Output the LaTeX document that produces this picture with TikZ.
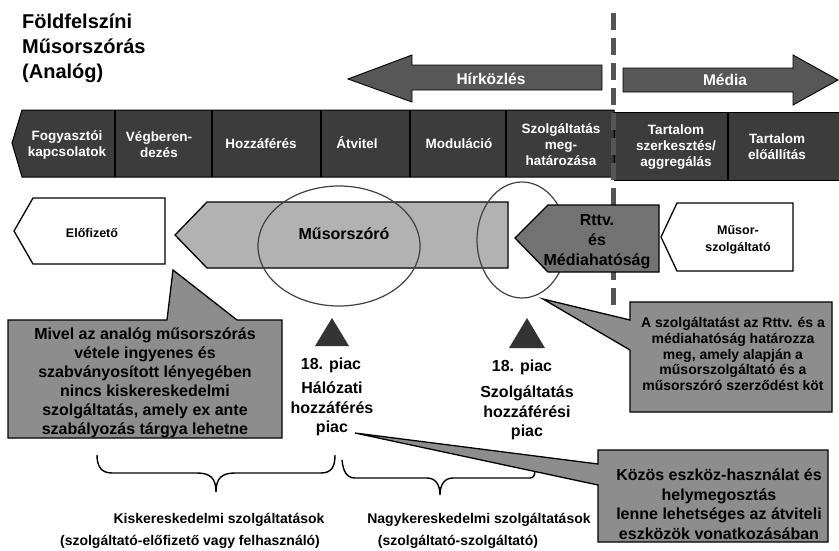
\documentclass[tikz,border=0pt]{standalone}
\usepackage{fontspec}
\setmainfont{Liberation Sans}
\definecolor{barfill}{HTML}{3C3C3C}
\definecolor{arrfill}{HTML}{575757}
\definecolor{lightfill}{HTML}{B2B2B2}
\definecolor{midfill}{HTML}{737373}
\definecolor{callfill}{HTML}{8D8D8D}
\definecolor{trifill}{HTML}{333333}
\definecolor{dashcol}{HTML}{555555}
\begin{document}
\begin{tikzpicture}[x=1pt,y=-1pt,
  txt/.style={inner sep=0pt, align=center},
  titletxt/.style={txt, align=left, font=\bfseries\fontsize{20}{25}\selectfont},
  celltxt/.style={txt, text=white, font=\bfseries\fontsize{13.5}{16}\selectfont},
  onecell/.style={celltxt, text height=10pt, text depth=3pt},
  arrowtxt/.style={txt, text=white, font=\bfseries\fontsize{15.5}{18}\selectfont},
  bigtxt/.style={txt, font=\bfseries\fontsize{16}{19.5}\selectfont},
  smalltxt/.style={txt, font=\bfseries\fontsize{12.5}{17}\selectfont},
  calltxt/.style={txt, font=\bfseries\fontsize{14}{15.6}\selectfont},
  bottxt/.style={txt, font=\bfseries\fontsize{14}{18}\selectfont},
  arrowshape/.style={draw=black, line width=0.9pt, fill=arrfill},
  barshape/.style={draw=black, line width=1pt, fill=barfill},
  divider/.style={draw=black, line width=1.2pt},
  whitebox/.style={draw=black, line width=1.3pt, fill=white},
  callout/.style={draw=black, line width=1.3pt, fill=callfill},
  ring/.style={draw=black!75, line width=1.2pt},
  marker/.style={fill=trifill},
  bracestyle/.style={draw=black, line width=1.4pt},
  dashline/.style={draw=dashcol, line width=5pt, dash pattern=on 17pt off 8pt}
]
\useasboundingbox (0,0) rectangle (839,550);

% title
\node[titletxt, anchor=west] (title) at (22,48) {Földfelszíni\\Műsorszórás\\(Analóg)};

% Hírközlés / Média arrows
\draw[arrowshape] (348,79) -- (412,55) -- (412,65) -- (602,65) -- (602,90) -- (412,90) -- (412,102) -- cycle;
\node[arrowtxt] (hir) at (491,79) {Hírközlés};
\draw[arrowshape] (623,68) -- (793,68) -- (793,55) -- (838,80) -- (793,105) -- (793,92) -- (623,92) -- cycle;
\node[arrowtxt] (media) at (725,80) {Média};

% value chain bar
\draw[barshape] (12,143) -- (22,110) -- (614,110) -- (614,177) -- (22,177) -- cycle;
\foreach \x in {115,212,321,410,506} \draw[divider] (\x,110) -- (\x,177);
\draw[barshape] (614,112) rectangle (840,180);
\draw[divider] (728,112) -- (728,180);
\node[celltxt] (c1) at (67,145) {Fogyasztói\\kapcsolatok};
\node[celltxt] (c2) at (159,145) {Végberen-\\dezés};
\node[onecell] (c3) at (261,145) {Hozzáférés};
\node[onecell] (c4) at (357,145) {Átvitel};
\node[onecell] (c5) at (459,145) {Moduláció};
\node[celltxt] (c6) at (561,145) {Szolgáltatás\\meg-\\határozása};
\node[celltxt] (c7) at (676,147) {Tartalom\\szerkesztés/\\aggregálás};
\node[celltxt] (c8) at (777,147) {Tartalom\\előállítás};

% dashed separator
\draw[dashline] (613,13) -- (613,305);

% second row
\draw[whitebox] (14,231) -- (33,198) -- (165,198) -- (165,264) -- (33,264) -- cycle;
\node[smalltxt] (elo) at (92,233) {Előfizető};
\draw[barshape, fill=lightfill, line width=1.3pt] (175,235) -- (207,202) -- (508,202) -- (508,268) -- (207,268) -- cycle;
\node[bigtxt] (muso) at (344,234) {Műsorszóró};
\draw[ring] (339,246) ellipse [x radius=81, y radius=60];
\draw[ring] (522,240) ellipse [x radius=45, y radius=58];
\draw[barshape, fill=midfill, line width=1.3pt] (515,238) -- (548,205) -- (659,205) -- (659,272) -- (548,272) -- cycle;
\node[bigtxt, font=\bfseries\fontsize{16}{20}\selectfont] (rttv) at (597,242) {Rttv.\\és\\Médiahatóság};
\draw[whitebox] (661,237) -- (677,203) -- (793,203) -- (793,271) -- (677,271) -- cycle;
\node[smalltxt] (msz) at (738,240) {Műsor-\\szolgáltató};

% callout 1
\draw[callout] (8,320) -- (167,320) -- (173,270) -- (237,320) -- (282,320) -- (282,438) -- (8,438) -- cycle;
\node[bigtxt, font=\bfseries\fontsize{16}{19}\selectfont] (co1) at (145,383) {Mivel az analóg műsorszórás\\vétele ingyenes és\\szabványosított lényegében\\nincs kiskereskedelmi\\szolgáltatás, amely ex ante\\szabályozás tárgya lehetne};

% callout 2
\draw[callout] (630,302) -- (832,302) -- (832,412) -- (630,412) -- (630,350) -- (543,299) -- (630,320) -- cycle;
\node[calltxt] (co2) at (733,354) {A szolgáltatást az Rttv. és a\\médiahatóság határozza\\meg, amely alapján a\\műsorszolgáltató és a\\műsorszóró szerződést köt};

% markers
\fill[marker] (332,318) -- (349,346) -- (315,346) -- cycle;
\fill[marker] (527,318) -- (545,348) -- (509,348) -- cycle;
\node[bigtxt] (p1) at (331,365) {18. piac};
\node[bigtxt] (h1) at (332,409) {Hálózati\\hozzáférés\\piac};
\node[bigtxt] (p2) at (522,367) {18. piac};
\node[bigtxt] (h2) at (527,413) {Szolgáltatás\\hozzáférési\\piac};

% braces
\draw[bracestyle] (97,455) .. controls (97,466) and (101,473) .. (112,473) -- (197,473)
  .. controls (210,473) and (216,478) .. (216,492)
  .. controls (216,478) and (222,473) .. (235,473) -- (321,473)
  .. controls (332,473) and (335,466) .. (335,455);
\draw[bracestyle] (342,460) .. controls (343,470) and (346,478) .. (355,478) -- (427,478)
  .. controls (435,478) and (440,484) .. (440,495)
  .. controls (440,484) and (445,478) .. (453,478) -- (530,478)
  .. controls (533,478) and (535,476) .. (535,470);

% bottom labels
\node[bottxt] (kis) at (219,520) {Kiskereskedelmi szolgáltatások};
\node[bottxt] (kis2) at (190,542) {(szolgáltató-előfizető vagy felhasználó)};
\node[bottxt] (nagy) at (479,520) {Nagykereskedelmi szolgáltatások};
\node[bottxt] (nagy2) at (458,542) {(szolgáltató-szolgáltató)};

% callout 3
\draw[callout] (598,450) -- (828,450) -- (828,542) -- (598,542) -- (598,485) -- (355,433) -- (598,464) -- cycle;
\node[bigtxt, font=\bfseries\fontsize{16}{19.5}\selectfont] (co3) at (719,504) {Közös eszköz-használat és\\helymegosztás\\lenne lehetséges az átviteli\\eszközök vonatkozásában};
\end{tikzpicture}
\end{document}
